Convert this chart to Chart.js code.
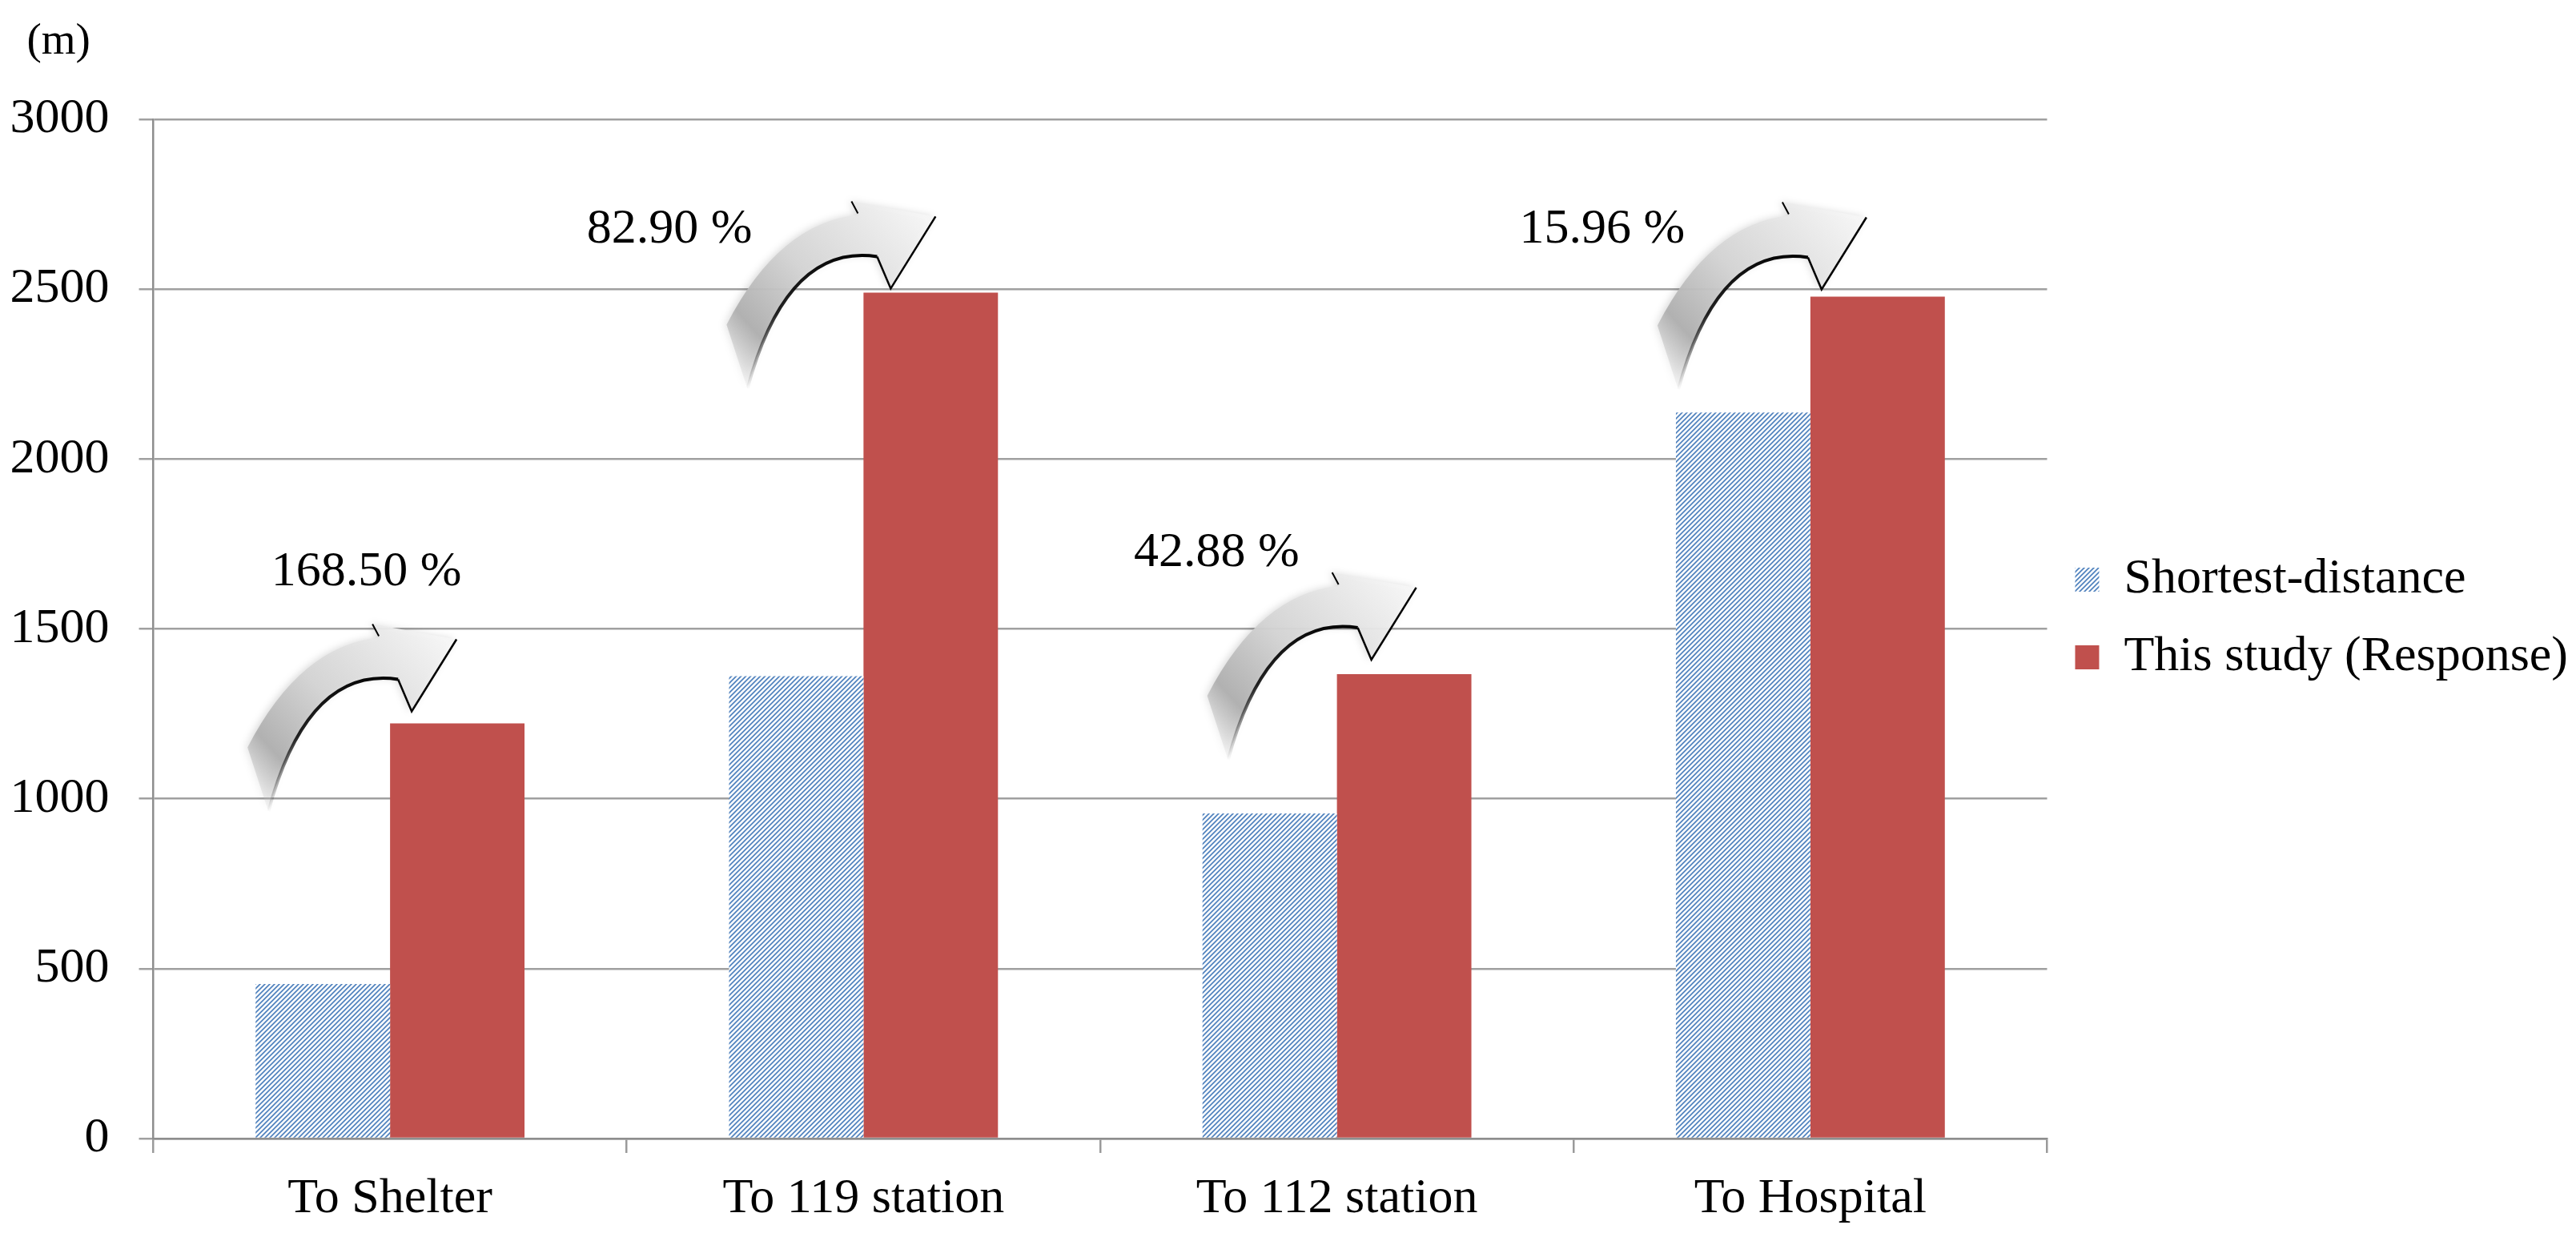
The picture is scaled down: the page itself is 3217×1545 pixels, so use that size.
<!DOCTYPE html>
<html>
<head>
<meta charset="utf-8">
<script src="https://cdn.jsdelivr.net/npm/chart.js@4.4.1/dist/chart.umd.min.js"></script>
<style>
  html, body { margin: 0; padding: 0; background: #fff; }
  #wrap { width: 3217px; height: 1545px; position: relative; }
</style>
</head>
<body>
<div id="wrap"><canvas id="distChart"></canvas></div>
<script>
const categories = ['To Shelter', 'To 119 station', 'To 112 station', 'To Hospital'];
const shortestDistance = [455, 1361, 957, 2137];
const thisStudy = [1222, 2490, 1367, 2478];
const increaseLabels = ['168.50 %', '82.90 %', '42.88 %', '15.96 %'];
const yTicks = [0, 500, 1000, 1500, 2000, 2500, 3000];
const unitLabel = '(m)';

// where each % note sits: offset in categories, height in metres
const notePos = [
  { dx: -0.05, y: 1667 },
  { dx: -0.41, y: 2675 },
  { dx: -0.254, y: 1723 },
  { dx: -0.44, y: 2675 }
];
// nudge (px) of each curved arrow from the red bar's top-left corner
const arrowNudge = [[-7, -10], [0, 0], [9, -13], [-20, -4]];

const FONT = 'Liberation Serif';
const FSIZE = 62;
Chart.defaults.font.family = FONT;
Chart.defaults.font.size = FSIZE;
Chart.defaults.color = '#000';

// blue "dark upward diagonal" fill like the Excel pattern
function makeHatch() {
  const c = document.createElement('canvas');
  c.width = 6; c.height = 6;
  const g = c.getContext('2d');
  g.fillStyle = '#fff';
  g.fillRect(0, 0, 6, 6);
  g.strokeStyle = '#4f81bd';
  g.lineWidth = 1.7;
  g.beginPath();
  g.moveTo(0, 6); g.lineTo(6, 0);
  g.moveTo(-3, 3); g.lineTo(3, -3);
  g.moveTo(3, 9); g.lineTo(9, 3);
  g.stroke();
  return g.createPattern(c, 'repeat');
}

// grey curved arrow, anchored at (ax, ay)
function drawArrow(ctx, ax, ay) {
  const P = (x, y) => [ax + x, ay + y];
  ctx.save();
  ctx.beginPath();
  ctx.moveTo(...P(-171, 40));
  ctx.quadraticCurveTo(...P(-105, -88), ...P(-6, -97));
  ctx.lineTo(...P(-15, -114));
  ctx.lineTo(...P(90, -95));
  ctx.lineTo(...P(34, -5));
  ctx.lineTo(...P(17, -45));
  ctx.quadraticCurveTo(...P(-96, -62), ...P(-145, 120));
  ctx.closePath();
  const grad = ctx.createLinearGradient(ax - 165, ay + 110, ax + 70, ay - 100);
  grad.addColorStop(0, 'rgba(200,200,200,0)');
  grad.addColorStop(0.2, 'rgba(175,175,175,0.95)');
  grad.addColorStop(0.5, 'rgba(212,212,212,0.95)');
  grad.addColorStop(1, 'rgba(246,246,246,0.95)');
  ctx.shadowColor = 'rgba(0,0,0,0.15)';
  ctx.shadowBlur = 10;
  ctx.shadowOffsetX = -3;
  ctx.fillStyle = grad;
  ctx.fill();
  ctx.shadowColor = 'transparent';

  // dark edge: tip -> notch -> inner curve, fading to the tail
  const edge = ctx.createLinearGradient(ax + 17, ay - 45, ax - 145, ay + 120);
  edge.addColorStop(0, '#000');
  edge.addColorStop(0.6, 'rgba(0,0,0,0.85)');
  edge.addColorStop(1, 'rgba(0,0,0,0)');
  ctx.strokeStyle = edge;
  ctx.lineJoin = 'miter';
  ctx.lineWidth = 2.5;
  ctx.beginPath();
  ctx.moveTo(...P(90, -95));
  ctx.lineTo(...P(34, -5));
  ctx.lineTo(...P(17, -45));
  ctx.stroke();
  ctx.lineWidth = 4;
  ctx.beginPath();
  ctx.moveTo(...P(17, -45));
  ctx.quadraticCurveTo(...P(-96, -62), ...P(-145, 120));
  ctx.stroke();

  ctx.strokeStyle = '#000';
  ctx.lineWidth = 2;
  ctx.beginPath();
  ctx.moveTo(...P(-15, -114));
  ctx.lineTo(...P(-7, -99));
  ctx.stroke();
  ctx.restore();
}

const notesPlugin = {
  id: 'notes',
  afterDatasetsDraw(chart) {
    const { ctx, chartArea, scales: { x, y } } = chart;
    const red = chart.getDatasetMeta(1).data;
    red.forEach((bar, i) => {
      const left = bar.x - bar.width / 2;
      drawArrow(ctx, left + arrowNudge[i][0], bar.y + arrowNudge[i][1]);
    });

    ctx.save();
    ctx.fillStyle = '#000';
    ctx.font = FSIZE + 'px "' + FONT + '"';
    ctx.textAlign = 'center';
    ctx.textBaseline = 'middle';
    increaseLabels.forEach((t, i) => {
      ctx.fillText(t, x.getPixelForValue(i + notePos[i].dx), y.getPixelForValue(notePos[i].y));
    });

    ctx.font = '55px "' + FONT + '"';
    ctx.textAlign = 'left';
    ctx.fillText(unitLabel, chartArea.left - 158, chartArea.top - 96);
    ctx.restore();
  }
};

const ctx = document.getElementById('distChart').getContext('2d');
const chartInstance = new Chart(ctx, {
  type: 'bar',
  data: {
    labels: categories,
    datasets: [
      {
        label: 'Shortest-distance',
        data: shortestDistance,
        backgroundColor: makeHatch(),
        borderWidth: 0
      },
      {
        label: 'This study (Response)',
        data: thisStudy,
        backgroundColor: '#c0504d',
        borderWidth: 0
      }
    ]
  },
  options: {
    responsive: true,
    maintainAspectRatio: false,
    animation: false,
    devicePixelRatio: 1,
    layout: { padding: 0 },
    datasets: {
      bar: { categoryPercentage: 0.568, barPercentage: 1.0 }
    },
    plugins: {
      legend: {
        position: 'right',
        maxWidth: 661,
        labels: {
          font: { family: FONT, size: FSIZE },
          color: '#000',
          boxWidth: 30,
          boxHeight: 30,
          padding: 35
        }
      },
      tooltip: { enabled: false }
    },
    scales: {
      x: {
        grid: {
          drawOnChartArea: false,
          drawTicks: true,
          tickLength: 18,
          color: '#9a9a9a',
          lineWidth: 2.5
        },
        border: { display: true, color: '#8e8e8e', width: 2.5 },
        ticks: { font: { family: FONT, size: FSIZE }, color: '#000', padding: 21, maxRotation: 0 },
        afterFit: axis => { axis.height = 123; }
      },
      y: {
        min: 0,
        max: 3000,
        afterBuildTicks: axis => { axis.ticks = yTicks.map(v => ({ value: v })); },
        grid: { color: '#a0a0a0', lineWidth: 2.5, tickLength: 18 },
        border: { display: true, color: '#8e8e8e', width: 2.5 },
        ticks: {
          font: { family: FONT, size: FSIZE },
          color: '#000',
          padding: 37,
          callback: v => String(v)
        },
        afterFit: axis => { axis.width = 191.5; axis.paddingTop = 149; }
      }
    }
  },
  plugins: [notesPlugin]
});
</script>
</body>
</html>
